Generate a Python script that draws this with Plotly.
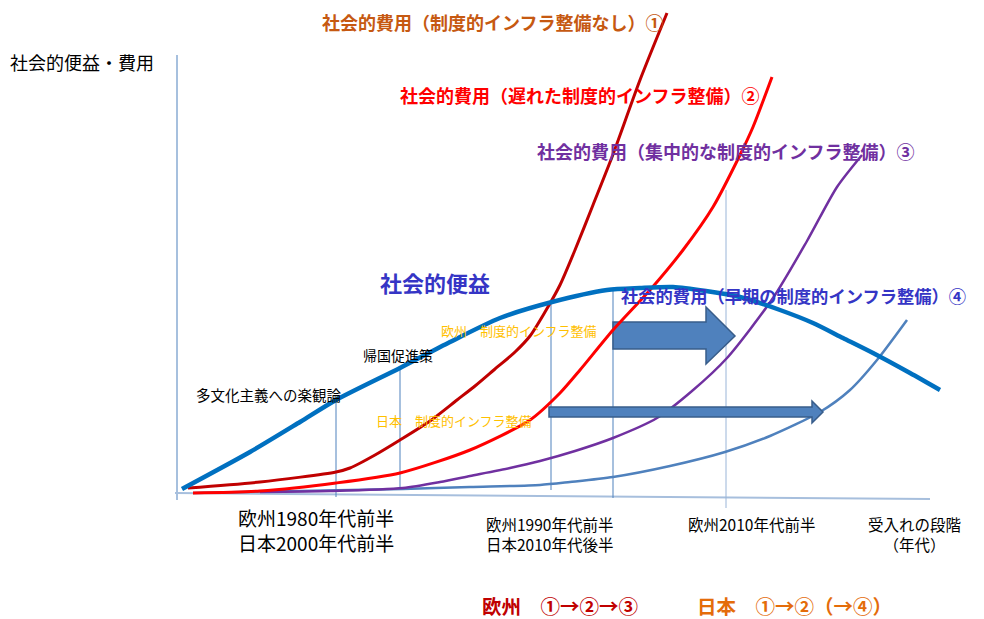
import plotly.graph_objects as go

# ---- curve data (diagram coordinates: x = stage, y = screen-like, 0 at top) ----
benefit_x = [182, 250, 300, 336, 400, 450, 500, 552, 607, 640, 673, 706, 740, 780, 813, 843, 873, 910, 940]
benefit_y = [489, 452, 422, 400, 368, 342, 318, 302, 290, 288, 287, 291, 297, 310, 323, 338, 353, 373, 390]

cost1_x = [188, 260, 336, 350, 375, 400, 430, 457, 475, 495, 515, 530, 545, 560, 575, 593, 612, 640, 667]
cost1_y = [488, 482, 472, 468, 455, 440, 421, 400, 386, 369, 352, 336, 312, 285, 250, 205, 157, 80, 13]

cost2_x = [193, 260, 336, 400, 470, 530, 560, 580, 613, 650, 683, 713, 740, 753, 772]
cost2_y = [493, 491, 483, 473, 450, 420, 393, 370, 330, 290, 250, 207, 155, 127, 77]

cost3_x = [260, 330, 403, 440, 470, 510, 540, 575, 613, 657, 692, 727, 773, 807, 837, 862]
cost3_y = [492, 491, 488, 482, 476, 468, 461, 451, 438, 418, 391, 358, 298, 241, 187, 155]

cost4_x = [193, 300, 403, 470, 540, 570, 613, 670, 725, 770, 820, 850, 877, 907]
cost4_y = [493, 491, 489, 487, 485, 482, 477, 466, 452, 436, 412, 390, 360, 320]

guide_x = [336, 400, 551, 613, 726]
guide_top = [400, 368, 302, 290, 190]
guide_bottom = [497, 490, 490, 498, 508]

PAGE_MARGIN = 8  # default body margin of the html page
W, H = 984, 619
FONT = "Noto Sans CJK JP"

fig = go.Figure()

shapes = []
shapes.append(dict(type="line", x0=177, x1=177, y0=55, y1=500, line=dict(color="#4F81BD", width=1), layer="below"))
shapes.append(dict(type="line", x0=175, x1=930, y0=493, y1=499, line=dict(color="#A7BFDD", width=2), layer="below"))
for gx, gt, gb in zip(guide_x, guide_top, guide_bottom):
    shapes.append(dict(type="line", x0=gx, x1=gx, y0=gt, y1=gb,
                       line=dict(color="#4F81BD" if gx != 726 else "#9AB5D8", width=1), layer="below"))
# big block arrow (Europe)
shapes.append(dict(type="path",
                   path="M613,322 L706,322 L706,307 L735,336 L706,364 L706,349 L613,349 Z",
                   fillcolor="#4F81BD", line=dict(color="#385D8A", width=1.5), layer="below"))
# long thin arrow (Japan)
shapes.append(dict(type="path",
                   path="M549,407 L812,407 L812,401 L823,412 L812,423 L812,417 L549,417 Z",
                   fillcolor="#4F81BD", line=dict(color="#385D8A", width=1.5), layer="above"))

def add_curve(xs, ys, color, width):
    fig.add_trace(go.Scatter(x=xs, y=ys, mode="lines",
                             line=dict(color=color, width=width, shape="spline", smoothing=0.7),
                             hoverinfo="skip", showlegend=False))

add_curve(cost4_x, cost4_y, "#4F81BD", 2.5)
add_curve(cost3_x, cost3_y, "#7030A0", 2.5)
add_curve(cost2_x, cost2_y, "#FF0000", 3)
add_curve(cost1_x, cost1_y, "#C00000", 3)
add_curve(benefit_x, benefit_y, "#0070C0", 4.5)

ann = []
def txt(x, y, s, color="#000000", size=14, anchor="left", bold=False):
    ann.append(dict(x=x, y=y, xref="x", yref="y", text=("<b>%s</b>" % s) if bold else s,
                    showarrow=False, xanchor=anchor, yanchor="middle",
                    font=dict(family=FONT, size=size, color=color)))

txt(8, 62, "社会的便益・費用", size=18)
txt(320, 22, "社会的費用（制度的インフラ整備なし）①", "#C65911", 18, bold=True)
txt(398, 95, "社会的費用（遅れた制度的インフラ整備）②", "#FF0000", 18, bold=True)
txt(535, 151, "社会的費用（集中的な制度的インフラ整備）③", "#7030A0", 18, bold=True)
txt(378, 282, "社会的便益", "#3535C5", 22, bold=True)
txt(619, 295, "社会的費用（早期の制度的インフラ整備）④", "#3535C5", 17.3, bold=True)
txt(439, 330, "欧州　制度的インフラ整備", "#FFC000", 13)
txt(374, 420, "日本　制度的インフラ整備", "#FFC000", 13)
txt(361, 355, "帰国促進策", size=14)
txt(194, 394, "多文化主義への楽観論", size=14.5)
txt(316, 530, "欧州1980年代前半<br>日本2000年代前半", size=19, anchor="center")
txt(549, 534, "欧州1990年代前半<br>日本2010年代後半", size=15.5, anchor="center")
txt(751, 524, "欧州2010年代前半", size=15.5, anchor="center")
txt(914, 534, "受入れの段階<br>（年代）", size=15.5, anchor="center")
txt(480, 605, "欧州　①→②→③", "#C00000", 19.5, bold=True)
txt(695, 605, "日本　①→②（→④）", "#E46C0A", 19.5, bold=True)

fig.update_layout(
    width=W - PAGE_MARGIN, height=H - PAGE_MARGIN,
    margin=dict(l=0, r=0, t=0, b=0),
    paper_bgcolor="white", plot_bgcolor="white",
    xaxis=dict(range=[PAGE_MARGIN, W], visible=False, fixedrange=True),
    yaxis=dict(range=[H, PAGE_MARGIN], visible=False, fixedrange=True),
    shapes=shapes, annotations=ann, showlegend=False,
)

fig.write_html("out.html")
